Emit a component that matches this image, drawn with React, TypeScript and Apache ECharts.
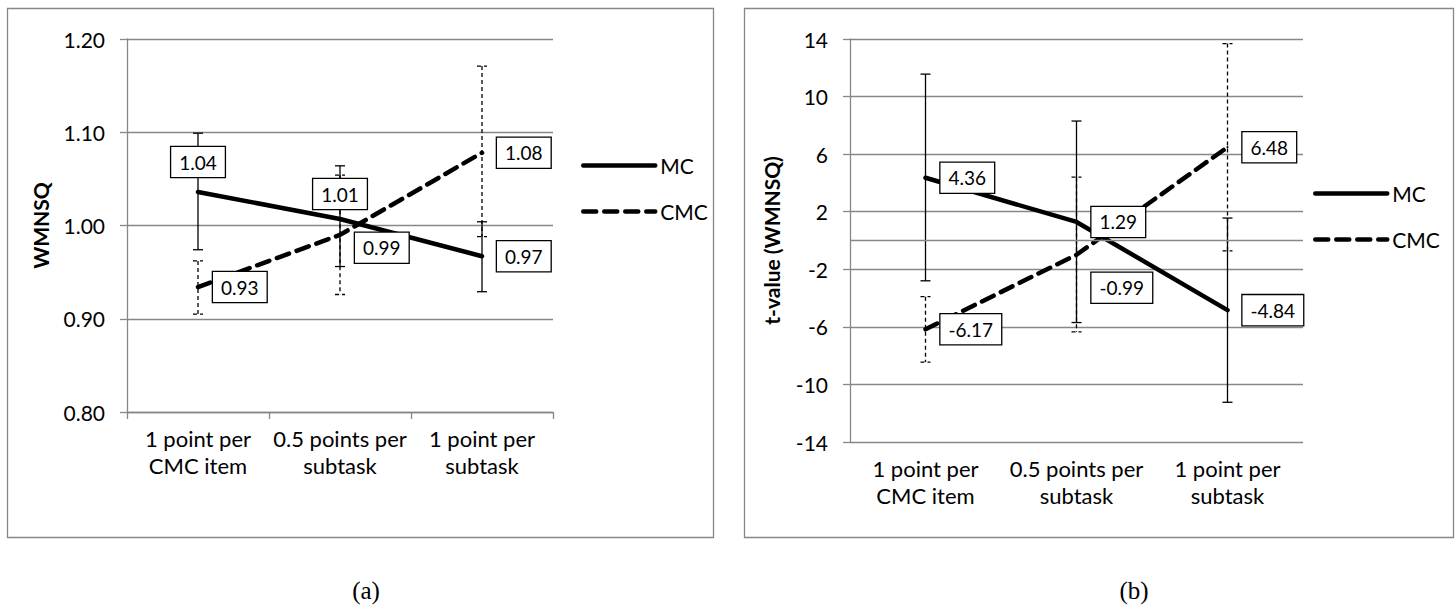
import React, { useEffect, useRef } from "react";
import * as echarts from "echarts";

// ---------- data ----------
const categories = ["1 point per\nCMC item", "0.5 points per\nsubtask", "1 point per\nsubtask"];
const seriesNames = ["MC", "CMC"];

// (a) WMNSQ
const wmnsqMC = [1.036, 1.007, 0.967];
const wmnsqCMC = [0.934, 0.99, 1.078];
const wmnsqMCLow = [0.974, 0.956, 0.929];
const wmnsqMCHigh = [1.099, 1.064, 1.004];
const wmnsqCMCLow = [0.905, 0.926, 0.988];
const wmnsqCMCHigh = [0.962, 1.054, 1.171];
const wmnsqAxis = { min: 0.8, max: 1.2, interval: 0.1, name: "WMNSQ" };

// (b) t-values of WMNSQ
const tMC = [4.36, 1.29, -4.84];
const tCMC = [-6.17, -0.99, 6.48];
const tMCLow = [-2.8, -5.7, -11.24];
const tMCHigh = [11.56, 8.3, 1.56];
const tCMCLow = [-8.45, -6.35, -0.72];
const tCMCHigh = [-3.9, 4.4, 13.68];
const tAxis = { min: -14, max: 14, interval: 4, name: "t-value (WMNSQ)" };

const captions = ["(a)", "(b)"];

// ---------- styling ----------
const FONT = "Lato";
const GRAY = "#878787";

const labelBase = {
  show: true,
  color: "#000",
  fontFamily: FONT,
  fontSize: 19,
  backgroundColor: "#fff",
  borderColor: "#000",
  borderWidth: 1.3,
  padding: [6, 8, 5, 8],
  position: "right",
  distance: 14,
  formatter: (p: any) => Number(p.value).toFixed(2),
};

function lineSeries(
  name: string,
  values: number[],
  axisIndex: number,
  dashed: boolean,
  labelOverrides: any[]
) {
  return {
    type: "line",
    name,
    xAxisIndex: axisIndex,
    yAxisIndex: axisIndex,
    z: 3,
    symbol: "circle",
    symbolSize: 2,
    itemStyle: { color: "#000" },
    lineStyle: {
      color: "#000",
      width: 4.5,
      cap: "round",
      type: dashed ? [13, 8] : "solid",
    },
    label: labelBase,
    data: values.map((v, i) => ({ value: v, label: labelOverrides[i] || {} })),
    silent: true,
  };
}

function errorBars(
  name: string,
  low: number[],
  high: number[],
  axisIndex: number,
  dashed: boolean
) {
  return {
    type: "custom",
    name,
    xAxisIndex: axisIndex,
    yAxisIndex: axisIndex,
    z: dashed ? 1 : 2,
    silent: true,
    encode: { x: 0, y: [1, 2] },
    data: low.map((l, i) => [i, l, high[i]]),
    renderItem: (_params: any, api: any) => {
      const idx = api.value(0);
      const lo = api.coord([idx, api.value(1)]);
      const hi = api.coord([idx, api.value(2)]);
      const hw = 5;
      const style = {
        stroke: "#000",
        lineWidth: 1.3,
        lineDash: dashed ? [4, 3] : null,
        fill: "none",
      };
      return {
        type: "group",
        children: [
          { type: "line", shape: { x1: lo[0], y1: hi[1], x2: lo[0], y2: lo[1] }, style },
          { type: "line", shape: { x1: lo[0] - hw, y1: hi[1], x2: lo[0] + hw, y2: hi[1] }, style },
          { type: "line", shape: { x1: lo[0] - hw, y1: lo[1], x2: lo[0] + hw, y2: lo[1] }, style },
        ],
      };
    },
  };
}

function xAxisCfg(gridIndex: number, showLine: boolean) {
  return {
    gridIndex,
    type: "category",
    data: categories,
    boundaryGap: true,
    axisLine: { show: showLine, onZero: false, lineStyle: { color: GRAY, width: 1.3 } },
    axisTick: { show: showLine, length: 7, lineStyle: { color: GRAY, width: 1.3 } },
    axisLabel: {
      interval: 0,
      color: "#000",
      fontFamily: FONT,
      fontSize: 22,
      lineHeight: 27,
      margin: 13,
    },
    splitLine: { show: false },
  };
}

function yAxisCfg(gridIndex: number, ax: any, decimals: number, nameGap: number) {
  return {
    gridIndex,
    type: "value",
    min: ax.min,
    max: ax.max,
    interval: ax.interval,
    name: ax.name,
    nameLocation: "middle",
    nameRotate: 90,
    nameGap,
    nameTextStyle: { color: "#000", fontFamily: FONT, fontWeight: "bold", fontSize: 21 },
    axisLine: { show: true, lineStyle: { color: GRAY, width: 1.3 } },
    axisTick: { show: true, length: 7, lineStyle: { color: GRAY, width: 1.3 } },
    axisLabel: {
      color: "#000",
      fontFamily: FONT,
      fontSize: 21,
      margin: 22,
      formatter: (v: number) => v.toFixed(decimals),
    },
    splitLine: { show: true, lineStyle: { color: GRAY, width: 1.3 } },
  };
}

function legendCfg(left: number, top: number) {
  return {
    left,
    top,
    padding: 0,
    orient: "vertical",
    data: seriesNames,
    itemWidth: 72,
    itemHeight: 14,
    itemGap: 25,
    selectedMode: false,
    textStyle: { color: "#000", fontFamily: FONT, fontSize: 21 },
    lineStyle: { width: 4.5 },
    itemStyle: { opacity: 0 },
  };
}

function caption(text: string, x: number) {
  return {
    type: "text",
    x,
    y: 590,
    style: {
      text,
      font: '25px "Liberation Serif"',
      fontFamily: "Liberation Serif",
      fontSize: 25,
      fill: "#000",
      textAlign: "center",
      textVerticalAlign: "middle",
      align: "center",
      verticalAlign: "middle",
    },
  };
}

export default function App() {
  const ref = useRef<HTMLDivElement>(null);

  useEffect(() => {
    if (!ref.current) return;
    const chart = echarts.init(ref.current, undefined, { renderer: "svg" });

    const option: any = {
      animation: false,
      backgroundColor: "#fff",
      grid: [
        { left: 127, top: 39, width: 426, height: 373 },
        { left: 850, top: 39, width: 453, height: 403 },
      ],
      xAxis: [xAxisCfg(0, true), xAxisCfg(1, false)],
      yAxis: [yAxisCfg(0, wmnsqAxis, 2, 76), yAxisCfg(1, tAxis, 0, 68)],
      legend: [legendCfg(581, 155), legendCfg(1313, 183)],
      series: [
        errorBars("CMC error (a)", wmnsqCMCLow, wmnsqCMCHigh, 0, true),
        errorBars("MC error (a)", wmnsqMCLow, wmnsqMCHigh, 0, false),
        errorBars("CMC error (b)", tCMCLow, tCMCHigh, 1, true),
        errorBars("MC error (b)", tMCLow, tMCHigh, 1, false),
        lineSeries("MC", wmnsqMC, 0, false, [
          { position: "top", distance: 14 },
          { position: "top", distance: 9 },
          null,
        ]),
        lineSeries("CMC", wmnsqCMC, 0, true, [null, { offset: [0, 13] }, null]),
        {
          ...lineSeries("MC", tMC, 1, false, [null, null, null]),
          markLine: {
            silent: true,
            symbol: "none",
            label: { show: false },
            lineStyle: { color: GRAY, width: 1.3, type: "solid" },
            data: [{ yAxis: 0 }],
          },
        },
        lineSeries("CMC", tCMC, 1, true, [null, { offset: [0, 33] }, null]),
      ],
      graphic: [
        {
          type: "rect",
          z: -10,
          shape: { x: 7.5, y: 8.5, width: 706, height: 529 },
          style: { fill: "none", stroke: GRAY, lineWidth: 1.3 },
        },
        {
          type: "rect",
          z: -10,
          shape: { x: 744.5, y: 8.5, width: 709, height: 529 },
          style: { fill: "none", stroke: GRAY, lineWidth: 1.3 },
        },
        caption(captions[0], 366),
        caption(captions[1], 1134),
      ],
    };

    chart.setOption(option);
    return () => chart.dispose();
  }, []);

  return (
    <div
      ref={ref}
      style={{ position: "absolute", left: 0, top: 0, width: 1455, height: 614, background: "#fff" }}
    />
  );
}
